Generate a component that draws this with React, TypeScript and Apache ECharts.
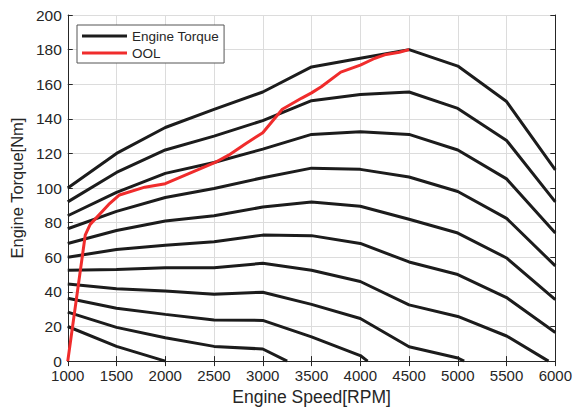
import React, { useEffect, useRef } from "react";
import * as echarts from "echarts";

// Engine speed grid (RPM)
const speeds = [1000, 1500, 2000, 2500, 3000, 3500, 4000, 4500, 5000, 5500, 6000];

// Engine torque curves (Nm) at each speed, top to bottom
const torque1 = [100, 120, 135, 145.5, 155.5, 170, 175, 180, 170.5, 150, 110.5];
const torque2 = [92, 109, 122, 130, 139, 150.5, 154, 155.5, 146, 127.5, 92];
const torque3 = [84, 97.5, 108.5, 114.8, 122.5, 131, 132.5, 131, 122, 105.3, 74];
const torque4 = [76.5, 86.5, 94.5, 99.7, 106, 111.5, 110.8, 106.4, 98, 82.5, 55];
const torque5 = [68, 75.5, 81, 84, 89, 92, 89.5, 82, 74, 59.6, 35.5];
const torque6 = [60, 64.5, 67, 69, 72.8, 72.5, 68, 57.3, 50, 36.7, 16.5];
const torque7 = [52.5, 53, 54, 54, 56.5, 52.5, 46, 32.5, 25.8, 14.5];
const torque8 = [44.5, 41.8, 40.5, 38.6, 39.8, 32.8, 24.6, 8.3, 1.8];
const torque9 = [36.3, 30.5, 27, 23.8, 23.5, 14, 3.2];
const torque10 = [28.3, 19.5, 13.5, 8.5, 7];
const torque11 = [20, 8.5, 0];

// Speed where each curve reaches zero torque (null = no extra point)
const zeroSpeeds = [null, null, null, null, null, null, 5930, 5065, 4075, 3250, null];

// Optimal operating line
const oolSpeed = [1000, 1180, 1230, 1420, 1530, 1790, 2000, 2500, 2650, 2820, 3000, 3200, 3400, 3500, 3600, 3800, 4000, 4150, 4250, 4400, 4500];
const oolTorque = [0, 73, 79, 90.5, 96, 100.5, 102.5, 114.5, 119, 125.5, 132, 145.5, 152, 155, 158.5, 167, 171, 175, 177, 178.5, 180];

const xTicks = { min: 1000, max: 6000, interval: 500 };
const yTicks = { min: 0, max: 200, interval: 20 };

const torqueCurves = [torque1, torque2, torque3, torque4, torque5, torque6, torque7, torque8, torque9, torque10, torque11];

const FONT = "'Liberation Sans', Arial, Helvetica, sans-serif";
const TEXT = "#262626";

export default function App() {
  const ref = useRef<HTMLDivElement>(null);

  useEffect(() => {
    if (!ref.current) return;
    const chart = echarts.init(ref.current, null, { renderer: "svg" });

    const blackSeries = torqueCurves.map((curve, i) => {
      const data: [number, number][] = curve.map((t, j) => [speeds[j], t]);
      const z = zeroSpeeds[i];
      if (z !== null) data.push([z as number, 0]);
      return {
        name: "Engine Torque",
        type: "line",
        data,
        symbol: "none",
        lineStyle: { color: "#1c1c1c", width: 3 },
        itemStyle: { color: "#1c1c1c" },
        z: 2,
      };
    });

    const redSeries = {
      name: "OOL",
      type: "line",
      data: oolSpeed.map((s, i) => [s, oolTorque[i]]),
      symbol: "none",
      lineStyle: { color: "#f02c2c", width: 3 },
      itemStyle: { color: "#f02c2c" },
      z: 3,
    };

    const axisLine = { show: true, lineStyle: { color: TEXT, width: 1 } };
    const tick = { show: true, inside: true, length: 5, lineStyle: { color: TEXT, width: 1 } };
    const split = { show: true, lineStyle: { color: "#dcdcdc", width: 1 } };

    chart.setOption({
      animation: false,
      textStyle: { fontFamily: FONT },
      grid: { left: 64, right: 18, top: 15, bottom: 47, containLabel: false },
      legend: {
        orient: "vertical",
        left: 77,
        top: 25,
        padding: [4, 5, 3, 5],
        itemGap: 3,
        itemWidth: 45,
        itemHeight: 3,
        icon: "rect",
        backgroundColor: "#ffffff",
        borderColor: "#555555",
        borderWidth: 1,
        borderRadius: 0,
        data: ["Engine Torque", "OOL"],
        textStyle: { fontSize: 13.5, lineHeight: 14, color: TEXT, fontFamily: FONT },
      },
      xAxis: [
        {
          type: "value",
          position: "bottom",
          ...xTicks,
          name: "Engine Speed[RPM]",
          nameLocation: "middle",
          nameGap: 26,
          nameTextStyle: { fontSize: 17.5, color: TEXT, fontFamily: FONT },
          axisLine,
          axisTick: tick,
          splitLine: split,
          axisLabel: {
            color: TEXT,
            fontSize: 15,
            lineHeight: 13,
            margin: 8,
            fontFamily: FONT,
            formatter: (v: number) => String(v),
          },
        },
        {
          type: "value",
          position: "top",
          ...xTicks,
          axisLine,
          axisTick: tick,
          splitLine: { show: false },
          axisLabel: { show: false },
        },
      ],
      yAxis: [
        {
          type: "value",
          position: "left",
          ...yTicks,
          name: "Engine Torque[Nm]",
          nameLocation: "middle",
          nameGap: 38,
          nameTextStyle: { fontSize: 16.5, color: TEXT, fontFamily: FONT },
          axisLine,
          axisTick: tick,
          splitLine: split,
          axisLabel: {
            color: TEXT,
            fontSize: 15.5,
            lineHeight: 12,
            margin: 6,
            fontFamily: FONT,
            formatter: (v: number) => String(v),
          },
        },
        {
          type: "value",
          position: "right",
          ...yTicks,
          axisLine,
          axisTick: tick,
          splitLine: { show: false },
          axisLabel: { show: false },
        },
      ],
      series: [...blackSeries, redSeries],
    });

    return () => chart.dispose();
  }, []);

  return (
    <div
      ref={ref}
      style={{ position: "fixed", left: 0, top: 0, width: 575, height: 411, background: "#ffffff" }}
    />
  );
}
